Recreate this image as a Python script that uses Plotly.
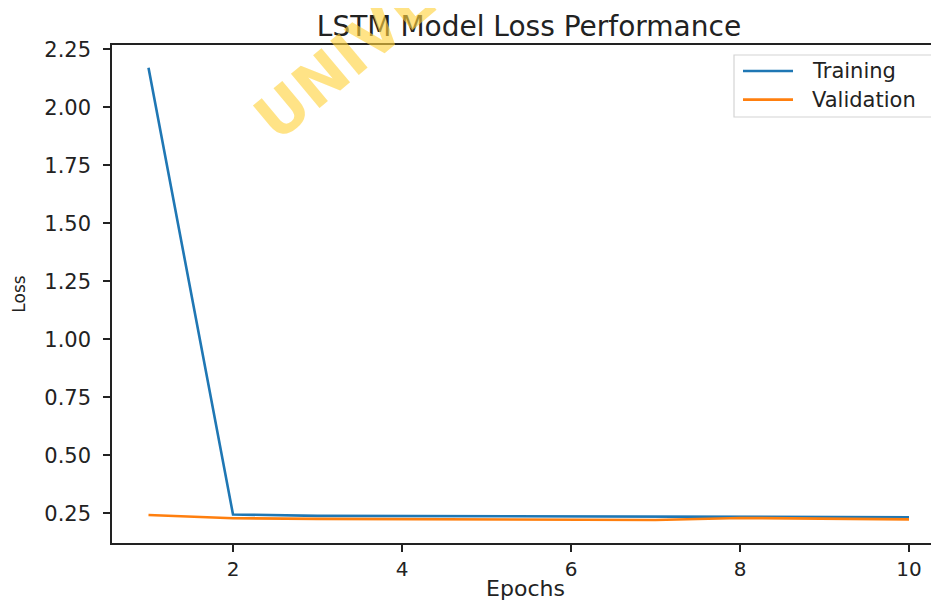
import plotly.graph_objects as go

epochs = [1, 2, 3, 4, 5, 6, 7, 8, 9, 10]
training_loss = [2.17, 0.245, 0.239, 0.238, 0.238, 0.236, 0.234, 0.232, 0.233, 0.233]
validation_loss = [0.243, 0.229, 0.226, 0.225, 0.225, 0.224, 0.221, 0.230, 0.226, 0.224]
series_names = ["Training", "Validation"]
series_colors = ["#1f77b4", "#ff7f0e"]
x_ticks = [2, 4, 6, 8, 10]
y_ticks = [0.25, 0.50, 0.75, 1.00, 1.25, 1.50, 1.75, 2.00, 2.25]
y_tick_labels = ["0.25", "0.50", "0.75", "1.00", "1.25", "1.50", "1.75", "2.00", "2.25"]

FONT = "DejaVu Sans"
INK = "#222222"

# The page body keeps an 8px margin, so the figure is 8px smaller than the window.
W, H = 931, 593
L, R, T, B = 104, 0, 37, 58
PW, PH = W - L - R, H - T - B


def px(xp):
    return (xp - L) / PW


def py(yp):
    return (T + PH - yp) / PH


fig = go.Figure()
for name, vals, col in zip(series_names, [training_loss, validation_loss], series_colors):
    fig.add_trace(go.Scatter(x=epochs, y=vals, mode="lines", name=name,
                             line=dict(color=col, width=2.6), showlegend=False))

fig.update_layout(
    width=W, height=H,
    margin=dict(l=L, r=R, t=T, b=B, autoexpand=False),
    paper_bgcolor="white", plot_bgcolor="white",
    font=dict(family=FONT, color=INK),
    title=dict(text="LSTM Model Loss Performance", x=521 / W, xanchor="center",
               y=1 - 18 / H, yanchor="middle", font=dict(size=28, family=FONT, color=INK)),
    showlegend=False,
    xaxis=dict(range=[0.568, 10.355], tickvals=x_ticks, ticktext=[str(v) for v in x_ticks],
               showgrid=False, zeroline=False, showline=True, mirror=True, automargin=False,
               linecolor=INK, linewidth=1.5, ticks="outside", ticklen=7,
               tickcolor=INK, tickwidth=1.5,
               tickfont=dict(size=20, family=FONT, color=INK),
               title=dict(text="Epochs", font=dict(size=22, family=FONT, color=INK),
                          standoff=4)),
    yaxis=dict(range=[0.122, 2.2685], tickvals=y_ticks, ticktext=y_tick_labels,
               showgrid=False, zeroline=False, showline=True, mirror=False, automargin=False,
               linecolor=INK, linewidth=1.5, ticks="outside", ticklen=7,
               tickcolor=INK, tickwidth=1.5, ticklabelstandoff=8,
               tickfont=dict(size=21, family=FONT, color=INK),
               title=dict(text="Loss", font=dict(size=17, family=FONT, color=INK),
                          standoff=14)),
)

# Watermark (cut by the top edge, as in the original)
fig.add_annotation(
    text="<b>UNIVERSITY</b>", xref="paper", yref="paper",
    x=px(413), y=py(-14), xanchor="center", yanchor="middle",
    textangle=-40, showarrow=False,
    font=dict(size=61, family=FONT, color="rgba(255,210,60,0.62)"),
)

# Legend (matplotlib style box)
fig.add_shape(type="rect", xref="paper", yref="paper",
              x0=px(726), x1=px(927), y0=py(109), y1=py(47),
              line=dict(color="#d4d4d4", width=1.2), fillcolor="rgba(255,255,255,0.8)")
for i, (name, col) in enumerate(zip(series_names, series_colors)):
    yy = 63 + i * 28.6
    fig.add_shape(type="line", xref="paper", yref="paper",
                  x0=px(735), x1=px(785), y0=py(yy), y1=py(yy),
                  line=dict(color=col, width=2.6))
    fig.add_annotation(text=name, xref="paper", yref="paper",
                       x=px(802), y=py(yy), xanchor="left", yanchor="middle",
                       showarrow=False, font=dict(size=21, family=FONT, color=INK))

fig.write_html("out.html")
